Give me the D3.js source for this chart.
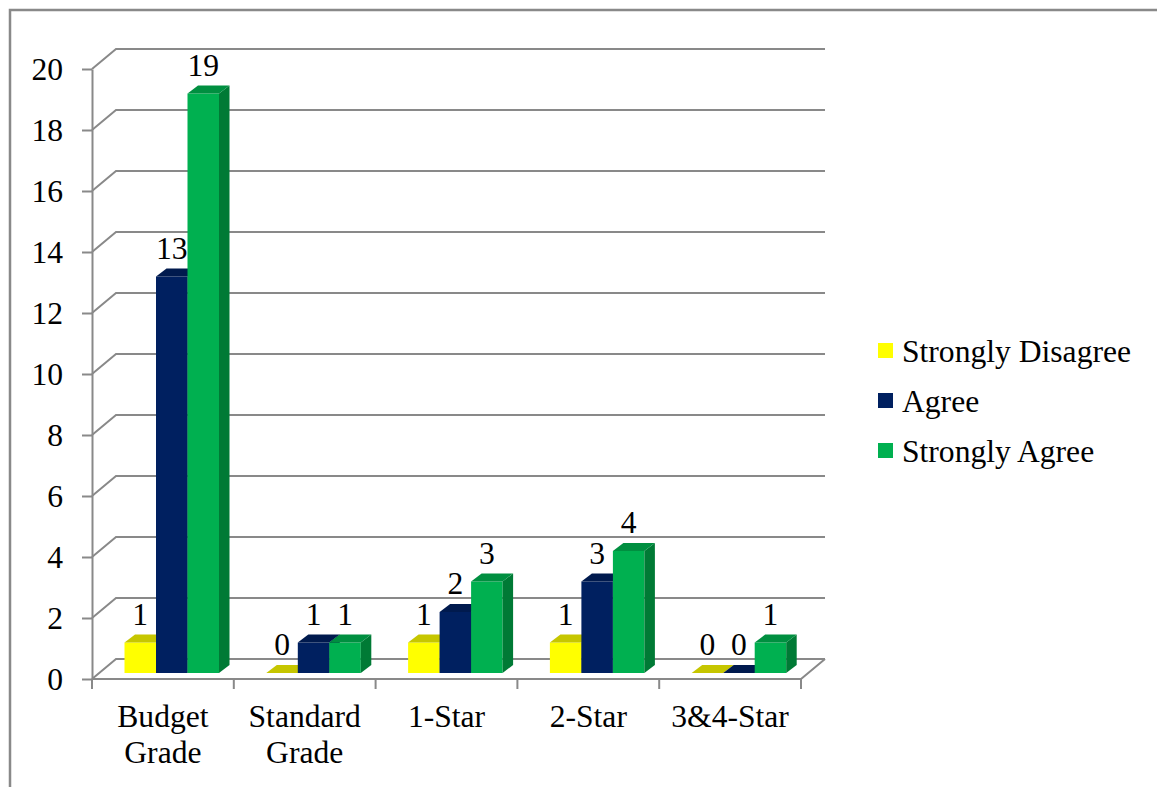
<!DOCTYPE html>
<html>
<head>
<meta charset="utf-8">
<script src="https://cdn.jsdelivr.net/npm/d3@7"></script>
<style>
  html, body { margin: 0; padding: 0; background: #fff; }
  svg { display: block; }
  svg text { font-family: "Liberation Serif", "Times New Roman", Times, serif; }
</style>
</head>
<body>
<svg id="chart" width="1157" height="787"></svg>
<script>
// Hotel grade responses
const categories = [["Budget", "Grade"], ["Standard", "Grade"], ["1-Star"], ["2-Star"], ["3&4-Star"]];
const seriesNames = ["Strongly Disagree", "Agree", "Strongly Agree"];
const stronglyDisagree = [1, 0, 1, 1, 0];
const agree = [13, 1, 2, 3, 0];
const stronglyAgree = [19, 1, 3, 4, 1];
const yTicks = [0, 2, 4, 6, 8, 10, 12, 14, 16, 18, 20];

const seriesValues = [stronglyDisagree, agree, stronglyAgree];
const palette = [
  { front: "#ffff00", top: "#c6c600", side: "#a8a800" },
  { front: "#002060", top: "#001a4e", side: "#00143c" },
  { front: "#00b050", top: "#008f40", side: "#007a35" }
];

const svg = d3.select("#chart");
const gridColor = "#898989";
const fontSize = 31.6;
const serif = "'Liberation Serif', 'Times New Roman', Times, serif";

// Front plane of the plot box
const x0 = 92, x1 = 801, yBottom = 679, yTop = 69;
// Depth offsets: full wall depth, bar front plane, bar thickness
const depth = { dx: 24, dy: -20 };
const barFront = { dx: 7, dy: -6 };
const barDepth = { dx: 10.5, dy: -8 };

const catKeys = categories.map(c => c.join(" "));
const x = d3.scaleBand().domain(catKeys).range([x0, x1]).paddingInner(0).paddingOuter(0);
const xs = d3.scaleBand().domain(seriesNames).range([25.5, 120]);
const y = d3.scaleLinear().domain([0, 20]).range([yBottom, yTop]);

// Outer frame
svg.append("path")
  .attr("d", "M10,787 L10,10 L1157,10")
  .attr("fill", "none").attr("stroke", gridColor).attr("stroke-width", 2.5);

// Back wall gridlines with their left-side diagonals
const grid = svg.append("g").attr("fill", "none").attr("stroke", gridColor).attr("stroke-width", 2);
yTicks.forEach(t => {
  const yf = y(t), yb = y(t) + depth.dy;
  grid.append("path")
    .attr("d", `M${x0},${yf} L${x0 + depth.dx},${yb} L${x1 + depth.dx},${yb}`);
});
// Floor: front edge and right edge
grid.append("path")
  .attr("d", `M${x0},${yBottom} L${x1},${yBottom} L${x1 + depth.dx},${yBottom + depth.dy}`);

// Left value axis
const yAxis = d3.axisLeft(y).tickValues(yTicks).tickSize(10).tickPadding(19).tickSizeOuter(0);
const yAxisG = svg.append("g").attr("transform", `translate(${x0},0)`).call(yAxis)
  .attr("font-family", serif).attr("font-size", fontSize);
yAxisG.select(".domain").attr("stroke", gridColor).attr("stroke-width", 2);
yAxisG.selectAll(".tick line").attr("stroke", gridColor).attr("stroke-width", 2);
yAxisG.selectAll(".tick text").attr("fill", "#000");

// Category axis ticks at band boundaries
const boundaries = catKeys.map(k => x(k)).concat([x1]);
svg.append("g").selectAll("line").data(boundaries).join("line")
  .attr("x1", d => d).attr("x2", d => d)
  .attr("y1", yBottom).attr("y2", yBottom + 10)
  .attr("stroke", gridColor).attr("stroke-width", 2);

// Category labels
const catG = svg.append("g").attr("text-anchor", "middle")
  .attr("font-family", serif).attr("font-size", fontSize);
categories.forEach((lines, i) => {
  const cx = x(catKeys[i]) + x.bandwidth() / 2;
  const t = catG.append("text").attr("x", cx).attr("y", 727);
  lines.forEach((ln, j) => {
    t.append("tspan").attr("x", cx).attr("dy", j === 0 ? 0 : 36).text(ln);
  });
});

// 3D bars
const bars = svg.append("g");
const labels = svg.append("g").attr("text-anchor", "middle")
  .attr("font-family", serif).attr("font-size", fontSize);
catKeys.forEach((key, ci) => {
  seriesNames.forEach((name, si) => {
    const v = seriesValues[si][ci];
    const c = palette[si];
    const left = x(key) + xs(name) + barFront.dx;
    const right = left + xs.bandwidth();
    const base = y(0) + barFront.dy;
    const top = y(v) + barFront.dy;
    const ddx = barDepth.dx, ddy = barDepth.dy;
    const g = bars.append("g");
    if (v > 0) {
      g.append("rect")
        .attr("x", left).attr("y", top)
        .attr("width", right - left).attr("height", base - top)
        .attr("fill", c.front);
      g.append("path")
        .attr("d", `M${right},${top} L${right + ddx},${top + ddy} L${right + ddx},${base + ddy} L${right},${base} Z`)
        .attr("fill", c.side);
    }
    g.append("path")
      .attr("d", `M${left},${top} L${left + ddx},${top + ddy} L${right + ddx},${top + ddy} L${right},${top} Z`)
      .attr("fill", c.top);
    labels.append("text")
      .attr("x", (left + right) / 2)
      .attr("y", top - 18)
      .text(v);
  });
});

// Legend
const legend = svg.append("g").attr("font-family", serif).attr("font-size", fontSize);
seriesNames.forEach((name, i) => {
  const baseY = 362 + i * 50;
  legend.append("rect")
    .attr("x", 878).attr("y", baseY - 19)
    .attr("width", 15).attr("height", 15)
    .attr("fill", palette[i].front);
  legend.append("text").attr("x", 902).attr("y", baseY).text(name);
});
</script>
</body>
</html>
